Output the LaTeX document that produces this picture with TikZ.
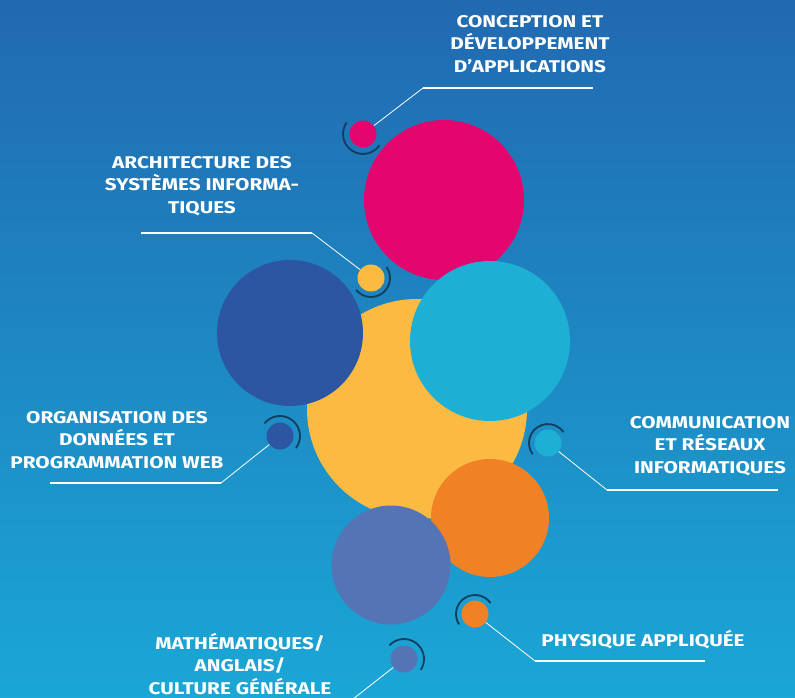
\documentclass[tikz,border=0pt]{standalone}
\usepackage{fontspec}
\setmainfont{Fira Sans}
\newfontfamily\topicfont[FakeStretch=1.22]{Fira Sans}
\usepackage{xcolor}
\definecolor{bgtop}{HTML}{2169B0}
\definecolor{bgbottom}{HTML}{1AA7D5}
\definecolor{pinkc}{HTML}{E2066E}
\definecolor{navyc}{HTML}{2C56A2}
\definecolor{cyanc}{HTML}{1EAFD4}
\definecolor{yellowc}{HTML}{FBBA42}
\definecolor{orangec}{HTML}{F08125}
\definecolor{lavenderc}{HTML}{5574B6}
\definecolor{ringc}{HTML}{123E5E}

\begin{document}
\begin{tikzpicture}[x=1pt,y=-1pt,
        bubble/.style={circle,inner sep=0pt,minimum size=#1},
        dot/.style={circle,inner sep=0pt,minimum size=27pt},
        ring/.style={draw=ringc,line width=1.8pt},
        leader/.style={draw=white,line width=0.8pt},
        rule/.style={draw=white,line width=1.8pt},
        topic/.style={text=white,align=center,inner sep=0pt,font=\topicfont\bfseries\fontsize{17}{22.5}\selectfont},
        ]
        \useasboundingbox (0,0) rectangle (795,698);
        \clip (0,0) rectangle (795,698);
        \shade[top color=bgtop,bottom color=bgbottom] (0,0) rectangle (795,698);

        % Grandes bulles
        \node[bubble=160pt,fill=pinkc] (bconc) at (444,200) {};
        \node[bubble=220pt,fill=yellowc] (barchi) at (417,409) {};
        \node[bubble=146pt,fill=navyc] (borga) at (290,333) {};
        \node[bubble=160pt,fill=cyanc] (bcomm) at (490,341) {};
        \node[bubble=118pt,fill=orangec] (bphys) at (490,518) {};
        \node[bubble=119pt,fill=lavenderc] (bmath) at (391,565) {};

        % Petites pastilles
        \node[dot,fill=pinkc] (dconc) at (363,134) {};
        \node[dot,fill=yellowc] (darchi) at (371,278) {};
        \node[dot,fill=navyc] (dorga) at (280,436) {};
        \node[dot,fill=cyanc] (dcomm) at (548,443) {};
        \node[dot,fill=orangec] (dphys) at (475,614) {};
        \node[dot,fill=lavenderc] (dmath) at (404,659) {};

        % Arcs autour des pastilles
        \draw[ring] ([shift={(-145:20)}]dconc.center) arc[start angle=-145,end angle=-326,radius=20];
        \draw[ring] ([shift={(-35:19)}]darchi.center) arc[start angle=-35,end angle=141,radius=19];
        \draw[ring] ([shift={(37:20)}]dorga.center) arc[start angle=37,end angle=-141,radius=20];
        \draw[ring] ([shift={(-216:19)}]dcomm.center) arc[start angle=-216,end angle=-35,radius=19];
        \draw[ring] ([shift={(-213:19)}]dphys.center) arc[start angle=-213,end angle=-35,radius=19];
        \draw[ring] ([shift={(-137:20)}]dmath.center) arc[start angle=-137,end angle=33,radius=20];

        % Points de renvoi
        \coordinate (kconc) at (423,88);
        \coordinate (econc) at (593,88);
        \coordinate (karchi) at (312,233);
        \coordinate (earchi) at (141,233);
        \coordinate (korga) at (221,483);
        \coordinate (eorga) at (50,483);
        \coordinate (kcomm) at (607,490);
        \coordinate (ecomm) at (778,490);
        \coordinate (kphys) at (535,661);
        \coordinate (ephys) at (705,661);
        \coordinate (kmath) at (339,710);

        % Traits de renvoi
        \draw[leader] (dconc) -- (kconc);
        \draw[rule] (kconc) -- (econc);
        \draw[leader] (darchi) -- (karchi);
        \draw[rule] (karchi) -- (earchi);
        \draw[leader] (dorga) -- (korga);
        \draw[rule] (korga) -- (eorga);
        \draw[leader] (dcomm) -- (kcomm);
        \draw[rule] (kcomm) -- (ecomm);
        \draw[leader] (dphys) -- (kphys);
        \draw[rule] (kphys) -- (ephys);
        \draw[leader] (dmath) -- (kmath);

        % Intitulés
        \node[topic] (tconc) at (530,44) {CONCEPTION ET\\DÉVELOPPEMENT\\D’APPLICATIONS};
        \node[topic] (tarchi) at (202,186) {ARCHITECTURE DES\\SYSTÈMES INFORMA-\\TIQUES};
        \node[topic] (torga) at (117,440) {ORGANISATION DES\\DONNÉES ET\\PROGRAMMATION WEB};
        \node[topic] (tcomm) at (710,446) {COMMUNICATION\\ET RÉSEAUX\\INFORMATIQUES};
        \node[topic] (tphys) at (643,640) {PHYSIQUE APPLIQUÉE};
        \node[topic] (tmath) at (240,664) {MATHÉMATIQUES/\\ANGLAIS/\\CULTURE GÉNÉRALE};
    \end{tikzpicture}
\end{document}
